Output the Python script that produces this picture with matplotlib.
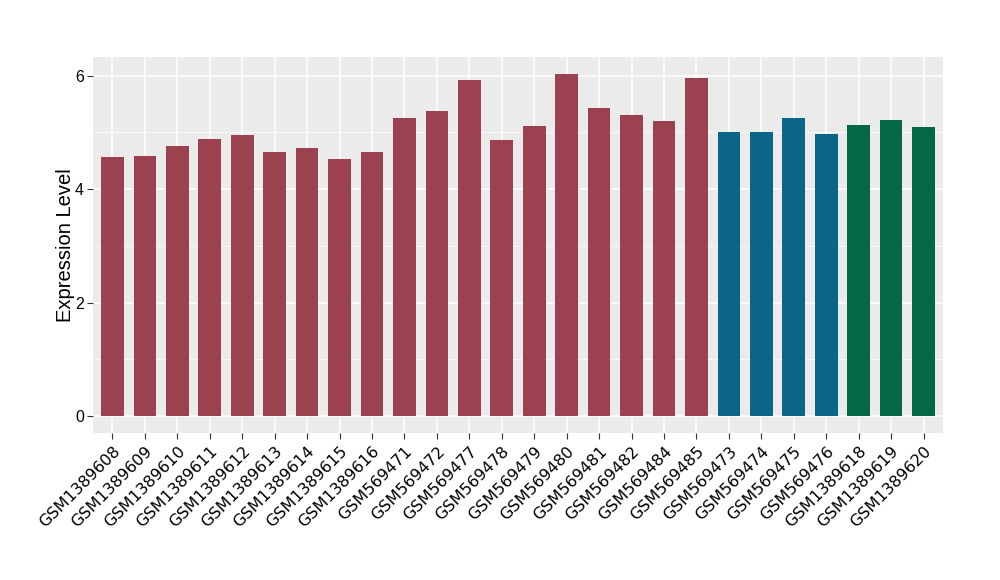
import matplotlib
matplotlib.use('Agg')
import matplotlib.pyplot as plt
import numpy as np

# Data
samples = ['GSM1389608', 'GSM1389609', 'GSM1389610', 'GSM1389611', 'GSM1389612',
           'GSM1389613', 'GSM1389614', 'GSM1389615', 'GSM1389616', 'GSM569471',
           'GSM569472', 'GSM569477', 'GSM569478', 'GSM569479', 'GSM569480',
           'GSM569481', 'GSM569482', 'GSM569484', 'GSM569485', 'GSM569473',
           'GSM569474', 'GSM569475', 'GSM569476', 'GSM1389618', 'GSM1389619',
           'GSM1389620']
values = [4.57, 4.59, 4.76, 4.89, 4.96, 4.66, 4.73, 4.53, 4.66, 5.26,
          5.38, 5.93, 4.87, 5.11, 6.03, 5.43, 5.31, 5.20, 5.96, 5.01,
          5.01, 5.26, 4.97, 5.13, 5.22, 5.10]
groups = ['a'] * 19 + ['b'] * 4 + ['c'] * 3
group_colors = {'a': '#9B4150', 'b': '#0A6586', 'c': '#036845'}

# Figure
fig = plt.figure(figsize=(10, 5.8), dpi=100)
ax = fig.add_axes([0.093, 0.2534, 0.85, 0.6483])
ax.set_facecolor('#EBEBEB')

x = np.arange(len(samples))
ax.bar(x, values, width=0.7, color=[group_colors[g] for g in groups], zorder=3)

ax.set_xlim(-0.6, len(samples) - 0.4)
ax.set_ylim(-0.3, 6.33)
ax.set_yticks([0, 2, 4, 6])
ax.set_yticks([1, 3, 5], minor=True)
ax.set_xticks(x)
ax.set_xticklabels(samples, rotation=45, ha='right', rotation_mode='anchor',
                   fontsize=11.5, family='DejaVu Sans')
for lbl in ax.get_yticklabels():
    lbl.set_family('Liberation Sans')
    lbl.set_fontsize(11.5)

ax.grid(which='major', color='white', linewidth=1.1, zorder=0)
ax.grid(which='minor', axis='y', color='white', linewidth=0.5, zorder=0)
ax.tick_params(which='major', length=4, color='#333333', labelcolor='black')
ax.tick_params(axis='y', which='major', pad=2.5)
ax.tick_params(which='minor', length=0)
for s in ax.spines.values():
    s.set_visible(False)

ax.set_ylabel('Expression Level', fontsize=14.5, family='Liberation Sans', labelpad=0)

fig.savefig('out.png', dpi=100)
